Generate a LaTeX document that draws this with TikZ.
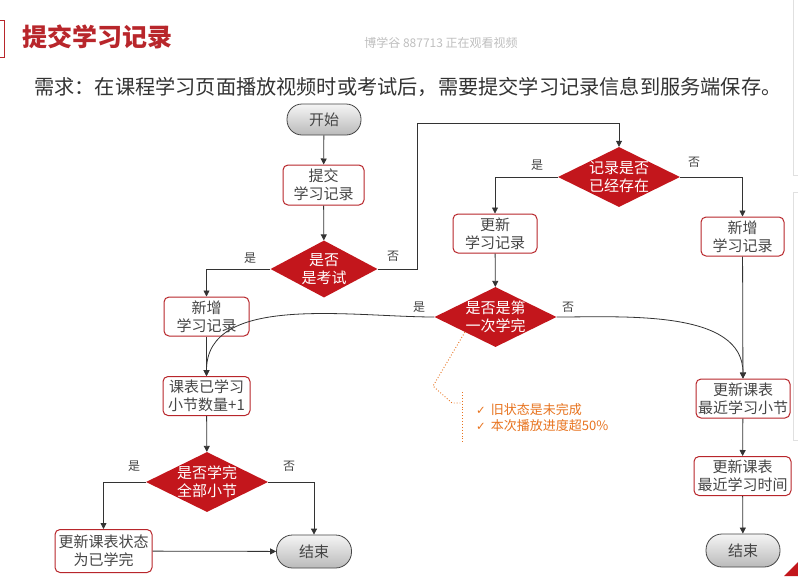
\documentclass[tikz,border=0pt]{standalone}
\usepackage{fontspec}
\setmainfont{Noto Sans CJK SC}
\newfontfamily\symfont{DejaVu Sans}
\usetikzlibrary{shapes.geometric,arrows.meta}
\definecolor{boxred}{HTML}{B8262B}
\definecolor{diared}{HTML}{C3161C}
\definecolor{txtgray}{HTML}{454545}
\definecolor{linegray}{HTML}{333333}
\definecolor{annor}{HTML}{E8731E}
\tikzset{
  x=1pt,y=-1pt,
  boxnode/.style={draw=boxred,line width=1pt,rounded corners=5pt,fill=white,align=center,
    text=txtgray,font=\fontsize{15pt}{18pt}\selectfont,inner sep=0pt},
  pill/.style={draw=txtgray,line width=0.8pt,rounded corners=15pt,top color=white!92!gray,bottom color=black!27,
    align=center,text=txtgray,font=\fontsize{15pt}{18pt}\selectfont,inner sep=0pt},
  dia/.style={diamond,fill=diared,inner sep=0pt},
  diatext/.style={text=white,align=center,font=\fontsize{15pt}{18pt}\selectfont},
  arr/.style={draw=linegray,line width=0.8pt,-{Triangle[length=6pt,width=6pt]}},
  yn/.style={text=txtgray,font=\fontsize{12pt}{14pt}\selectfont},
}
\begin{document}
\begin{tikzpicture}
\useasboundingbox[fill=white] (0,0) rectangle (798,576);
% slide decorations
\draw[boxred,line width=1pt] (0,20) -- (4,20) -- (4,57) -- (0,57);
\draw[black!12,line width=1pt] (793,0) -- (793,175) -- (798,175);
\draw[black!12,line width=1pt] (798,192) -- (793,192) -- (793,440) -- (798,440);
\fill[diared] (798,562) -- (798,576) -- (784,576) -- cycle;
% titles
\node[anchor=west,text=boxred,font=\fontsize{25pt}{28pt}\selectfont\bfseries,inner sep=0pt] (title) at (22,37) {提交学习记录};
\node[text=black!25,font=\fontsize{12pt}{14pt}\selectfont,inner sep=0pt] (wm) at (441,43) {博学谷 887713 正在观看视频};
\node[anchor=west,text=linegray,font=\fontsize{20.2pt}{24pt}\selectfont,inner sep=0pt] (req) at (34,87) {需求：在课程学习页面播放视频时或考试后，需要提交学习记录信息到服务端保存。};
% nodes
\node[pill,minimum width=74pt,minimum height=31pt] (start) at (324,119.5) {开始};
\node[boxnode,minimum width=81pt,minimum height=40pt] (submit) at (323.5,185) {提交\\学习记录};
\node[dia,minimum width=107pt,minimum height=57pt,label={[diatext]center:{是否\\是考试}}] (exam) at (324,269) {};
\node[dia,minimum width=122pt,minimum height=60pt,label={[diatext]center:{记录是否\\已经存在}}] (exist) at (619,177) {};
\node[boxnode,minimum width=84pt,minimum height=39pt] (upd) at (495,233.5) {更新\\学习记录};
\node[boxnode,minimum width=83pt,minimum height=39pt] (addR) at (742.5,236.5) {新增\\学习记录};
\node[dia,minimum width=122pt,minimum height=60pt,label={[diatext]center:{是否是第\\一次学完}}] (first) at (495.5,317) {};
\node[boxnode,minimum width=85pt,minimum height=39pt] (addL) at (206.5,316.5) {新增\\学习记录};
\node[boxnode,minimum width=87pt,minimum height=39pt] (count) at (206.5,396) {课表已学习\\小节数量+1};
\node[dia,minimum width=122pt,minimum height=60pt,label={[diatext]center:{是否学完\\全部小节}}] (all) at (207,482) {};
\node[boxnode,minimum width=97pt,minimum height=43pt] (status) at (103.5,551) {更新课表状态\\为已学完};
\node[pill,minimum width=75pt,minimum height=33pt,rounded corners=16pt] (endL) at (314,551.5) {结束};
\node[boxnode,minimum width=94pt,minimum height=39pt] (recent) at (743,398.5) {更新课表\\最近学习小节};
\node[boxnode,minimum width=97pt,minimum height=39pt] (rtime) at (742.5,476) {更新课表\\最近学习时间};
\node[pill,minimum width=74pt,minimum height=33pt,rounded corners=16pt] (endR) at (743,550.5) {结束};
% yes/no labels
\node[yn] (y1) at (250,258) {是};
\node[yn] (n1) at (393,256) {否};
\node[yn] (y2) at (537,165) {是};
\node[yn] (n2) at (694,162) {否};
\node[yn] (y3) at (419,307) {是};
\node[yn] (n3) at (568,307) {否};
\node[yn] (y4) at (134,466) {是};
\node[yn] (n4) at (289,466) {否};
% connectors
\coordinate (c1) at (417,123);
\draw[arr] (start) -- (submit);
\draw[arr] (submit) -- (exam);
\draw[arr] (exam.west) -| (addL);
\draw[arr] (exam.east) -| (c1) -| (exist.north);
\draw[arr] (exist.west) -| (upd);
\draw[arr] (exist.east) -| (addR);
\draw[arr] (upd) -- (first);
\draw[arr] (addL) -- (count);
\draw[arr] (first.west) to[out=180,in=90,looseness=0.9] (count.north);
\draw[arr] (first.east) to[out=0,in=90,looseness=0.9] (recent.north);
\draw[arr] (addR) -- (recent);
\draw[arr] (recent) -- (rtime);
\draw[arr] (rtime) -- (endR);
\draw[arr] (count) -- (all);
\draw[arr] (all.west) -| (status);
\draw[arr] (all.east) -| (endL);
\draw[arr] (status) -- (endL);
% annotation
\coordinate (a1) at (433,386);
\coordinate (a2) at (452,403);
\coordinate (a3) at (462,403);
\coordinate (b1) at (462,392);
\coordinate (b2) at (462,442);
\draw[annor,line width=0.9pt,dotted] (first.south west) -- (a1) -- (a2) -- (a3);
\draw[annor,line width=0.9pt,dotted] (b1) -- (b2);
\node[anchor=west,text=annor,align=left,font=\fontsize{13pt}{16pt}\selectfont,inner sep=0pt] (note) at (476,418)
  {{\symfont\fontsize{11.5pt}{16pt}\selectfont ✓}\hspace{5pt}旧状态是未完成\\{\symfont\fontsize{11.5pt}{16pt}\selectfont ✓}\hspace{5pt}本次播放进度超50\%};
\end{tikzpicture}
\end{document}
